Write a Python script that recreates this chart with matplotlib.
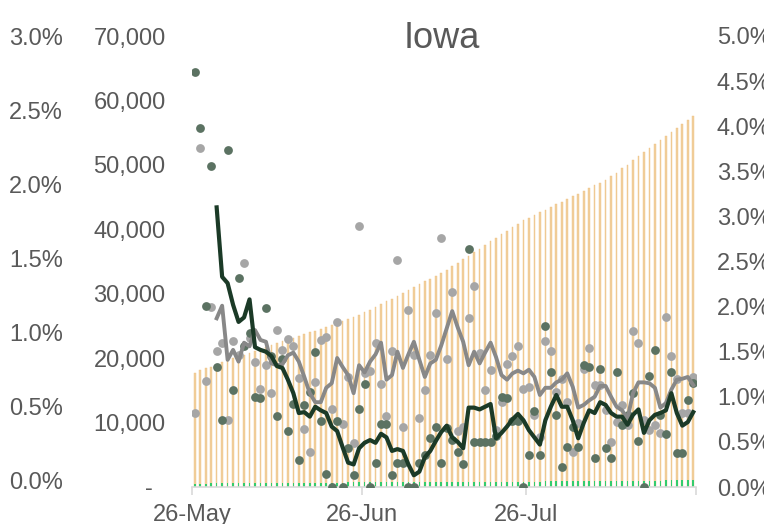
# Iowa: cumulative cases/deaths (bars) with daily rates (dots) and 7-day averages (lines)
import numpy as np
import pandas as pd
import matplotlib.pyplot as plt

plt.rcParams['font.family'] = ['Liberation Sans', 'DejaVu Sans']

dates = pd.date_range('2020-05-26', periods=92, freq='D')

# cumulative cases (left inner axis)
cases = [17700, 18100, 18400, 18700, 19000, 19350, 19650, 19950, 20250, 20550, 20850, 21150, 21450, 21750, 22050, 22350,
         22600, 22900, 23150, 23450, 23700, 24000, 24250, 24550, 24850, 25100, 25400, 25700, 26000, 26350, 26700,
         27150, 27500, 27950, 28400, 28800, 29250, 29700, 30100, 30550, 31050, 31450, 31900, 32350, 32750, 33200,
         33750, 34300, 34800, 35350, 35900, 36500, 37000, 37550, 38150, 38650, 39200, 39800, 40300, 40850, 41400,
         41800, 42200, 42650, 43050, 43450, 43900, 44300, 44700, 45100, 45550, 45950, 46400, 46800, 47200, 47650,
         48200, 48800, 49450, 50050, 50700, 51300, 51950, 52550, 53200, 53800, 54450, 55050, 55700, 56300, 56950, 57600]

# cumulative deaths (left inner axis)
deaths = [525, 532, 540, 547, 555, 562, 570, 577, 585, 591, 598, 605, 612, 618, 625, 631,
          637, 642, 648, 654, 660, 665, 670, 675, 680, 686, 690, 695, 700, 706, 712,
          716, 720, 724, 727, 731, 735, 738, 742, 746, 750, 754, 758, 762, 766, 770,
          774, 778, 782, 786, 790, 794, 798, 802, 806, 810, 814, 818, 822, 826, 830,
          836, 842, 848, 855, 862, 868, 875, 882, 888, 895, 902, 908, 915, 922, 930,
          938, 945, 952, 960, 968, 975, 982, 990, 998, 1005, 1013, 1020, 1028, 1036, 1044, 1052]

# daily rates in % (right axis)
rate_a = [4.60, 3.98, 2.01, 3.56, 1.33, 0.74, 3.74, 1.08, 2.32, 1.56, 1.71, 1.00, 0.99, 1.98, 1.45, 0.79,
          1.42, 0.62, 0.92, 0.30, 0.91, 1.05, 1.50, 0.73, 0.14, 0.00, 0.73, 0.00, 0.43, 0.13, 0.86,
          1.14, 0.00, 0.27, 0.70, 0.70, 0.13, 0.27, 0.27, 0.00, 0.00, 0.27, 0.35, 0.54, 0.67, 0.27,
          0.65, 0.52, 0.39, 0.25, 2.64, 0.50, 0.50, 0.50, 0.50, 0.57, 1.00, 0.99, 0.73, 0.73, 0.00,
          0.35, 0.84, 0.35, 1.78, 1.27, 0.80, 0.22, 0.44, 0.67, 0.44, 1.35, 1.33, 0.32, 1.31, 0.43,
          0.32, 1.27, 0.69, 0.80, 1.04, 0.51, 0.00, 1.23, 1.52, 0.80, 0.59, 1.27, 0.38, 0.38, 0.96, 1.15]

rate_b = [0.82, 3.76, 1.18, 2.00, 1.51, 1.60, 0.74, 1.62, 1.46, 2.48, 1.65, 1.39, 1.09, 1.35, 1.04, 1.74,
          1.52, 1.64, 1.56, 1.21, 0.64, 0.39, 1.16, 1.63, 1.66, 0.86, 1.83, 0.70, 1.22, 0.49, 2.89,
          1.26, 1.29, 1.60, 1.14, 0.79, 1.51, 2.52, 0.67, 1.96, 1.46, 0.76, 1.08, 1.46, 1.93, 2.76,
          1.42, 2.16, 0.62, 0.67, 1.87, 2.23, 1.49, 1.08, 1.30, 0.63, 0.94, 1.36, 1.45, 1.56, 1.09,
          1.11, 0.80, 0.55, 1.62, 1.51, 1.05, 1.20, 0.94, 0.39, 0.71, 1.31, 1.54, 1.13, 1.13, 0.85,
          0.50, 0.72, 0.91, 0.69, 1.73, 1.60, 0.74, 0.63, 0.69, 0.60, 1.88, 1.45, 1.20, 0.82, 0.82, 1.22]

# averages, starting at day 4
avg_a = [3.10, 2.33, 2.26, 2.02, 1.83, 1.88, 2.08, 1.55, 1.52, 1.50, 1.45, 1.34,
         1.32, 1.19, 1.04, 0.82, 0.83, 0.78, 0.89, 0.85, 0.82, 0.67, 0.62, 0.44, 0.27, 0.25, 0.43,
         0.49, 0.52, 0.49, 0.59, 0.55, 0.40, 0.42, 0.40, 0.25, 0.13, 0.17, 0.33, 0.40, 0.51, 0.61,
         0.68, 0.55, 0.50, 0.43, 0.88, 0.88, 0.86, 0.89, 0.92, 0.54, 0.60, 0.67, 0.75, 0.81, 0.74,
         0.63, 0.55, 0.47, 0.74, 0.89, 1.02, 0.89, 0.89, 0.74, 0.54, 0.71, 0.85, 0.82, 0.94, 0.91,
         0.82, 0.78, 0.78, 0.69, 0.80, 0.86, 0.60, 0.74, 0.80, 0.82, 0.85, 1.04, 0.82, 0.68, 0.72, 0.83]

avg_b = [1.87, 2.01, 1.41, 1.52, 1.39, 1.60, 1.56, 1.74, 1.63, 1.61, 1.37, 1.35,
         1.36, 1.46, 1.49, 1.39, 1.22, 1.04, 0.94, 0.94, 1.10, 1.15, 1.43, 1.33, 1.24, 1.04, 1.35,
         1.27, 1.39, 1.47, 1.60, 1.19, 1.24, 1.50, 1.32, 1.47, 1.61, 1.41, 1.22, 1.37, 1.41, 1.57,
         1.76, 1.95, 1.77, 1.61, 1.35, 1.50, 1.37, 1.49, 1.60, 1.44, 1.24, 1.19, 1.26, 1.29, 1.26,
         1.30, 1.22, 1.02, 1.10, 1.10, 1.16, 1.19, 1.26, 1.11, 0.88, 0.91, 0.96, 1.00, 1.12, 1.12,
         1.00, 0.89, 0.85, 0.76, 1.04, 1.16, 1.16, 1.15, 1.10, 0.88, 0.93, 1.08, 1.19, 1.20, 1.22, 1.13]

tick_days = [0, 31, 61, 92]
tick_text = ['26-May', '26-Jun', '26-Jul', '']

txt = '#595959'
x = np.arange(len(dates))

fig = plt.figure(figsize=(7.64, 5.24), dpi=100)
pos = [192/764, 37/524, 504/764, 451/524]

# outer left percentage axis
ax3 = fig.add_axes(pos)
ax3.patch.set_visible(False)
for s in ax3.spines.values():
    s.set_visible(False)
ax3.xaxis.set_visible(False)
ax3.set_ylim(-0.0468, 2.9666)
ax3.set_yticks(np.arange(0, 3.01, 0.5))
ax3.set_yticklabels(['%.1f%%' % v for v in np.arange(0, 3.01, 0.5)])
ax3.tick_params(axis='y', length=0, pad=93, labelsize=17, labelcolor=txt)

ax = fig.add_axes(pos)
ax.patch.set_visible(False)
ax.bar(x, cases, width=0.3, color='#f2cf9c', edgecolor='#edc184', linewidth=0.3, zorder=1)
ax.bar(x, deaths, width=0.3, color='#33cc6e', zorder=2)
ax.set_ylim(0, 70000)
ax.set_xlim(-0.5, 91.5)
ax.set_yticks(np.arange(0, 70001, 10000))
ax.set_yticklabels([''] + ['{:,}'.format(v) for v in range(10000, 70001, 10000)])
ax.annotate('-', xy=(0, 0), xycoords=('axes fraction', 'data'), xytext=(-31, 0),
            textcoords='offset points', ha='center', va='center_baseline', fontsize=17, color=txt)
ax.tick_params(axis='y', length=0, pad=19, labelsize=17, labelcolor=txt)
ax.set_xticks([d - 0.5 for d in tick_days])
ax.set_xticklabels(tick_text)
ax.tick_params(axis='x', length=6, width=1.2, color='#d9d9d9', pad=6, labelsize=17, labelcolor=txt)
for side in ['top', 'left', 'right']:
    ax.spines[side].set_visible(False)
ax.spines['bottom'].set_color('#d9d9d9')
ax.spines['bottom'].set_linewidth(1.2)

axr = ax.twinx()
axr.set_ylim(0, 5)
axr.scatter(x, rate_b, s=40, color='#a6a6a6', zorder=3, linewidths=0)
axr.scatter(x, rate_a, s=40, color='#5b7262', zorder=3, linewidths=0)
axr.plot(x[4:], avg_b, color='#888888', lw=2.8, zorder=4)
axr.plot(x[4:], avg_a, color='#1b3a27', lw=3.0, zorder=5)
axr.set_yticks(np.arange(0, 5.01, 0.5))
axr.set_yticklabels(['%.1f%%' % v for v in np.arange(0, 5.01, 0.5)])
axr.tick_params(axis='y', length=0, pad=15, labelsize=17, labelcolor=txt)
for s in axr.spines.values():
    s.set_visible(False)

ax.text(0.495, 0.973, 'Iowa', transform=ax.transAxes, ha='center', va='baseline',
        fontsize=26, color=txt)

plt.savefig('out.png', dpi=100)
